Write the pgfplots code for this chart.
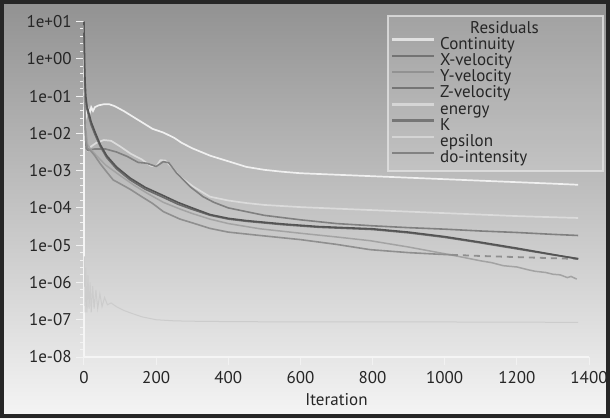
\documentclass[border=0pt]{standalone}
\usepackage{pgfplots}
\pgfplotsset{compat=1.18}
\usepackage{fontspec}
\setmainfont{PT Sans}
\definecolor{bgtop}{gray}{0.57}
\definecolor{bgmid}{gray}{0.75}
\definecolor{bgbot}{gray}{0.96}
\definecolor{cCont}{gray}{0.94}
\definecolor{cX}{gray}{0.33}
\definecolor{cY}{gray}{0.56}
\definecolor{cZ}{gray}{0.42}
\definecolor{cEn}{gray}{0.86}
\definecolor{cK}{gray}{0.50}
\definecolor{cEps}{gray}{0.64}
\definecolor{cDO}{gray}{0.80}
\newcommand{\lf}{\fontsize{8.5}{9}\selectfont}
\begin{document}
\begin{tikzpicture}
\shade[top color=bgtop, middle color=bgmid, bottom color=bgbot] (0pt,0pt) rectangle (305pt,209pt);
\begin{axis}[
  at={(42pt,30.5pt)}, anchor=south west, scale only axis,
  width=252.5pt, height=167.75pt,
  xmin=0, xmax=1400, ymode=log, ymin=1e-8, ymax=10,
  clip=false,
  axis x line*=bottom, axis y line*=left,
  axis line style={color=white!92!gray, line width=0.6pt},
  xtick={0,200,...,1400},
  ytick={1e-8,1e-7,1e-6,1e-5,1e-4,1e-3,1e-2,1e-1,1,10},
  yticklabels={1e-08,1e-07,1e-06,1e-05,1e-04,1e-03,1e-02,1e-01,1e+00,1e+01},
  minor ytick={1.585e-8,2.512e-8,3.981e-8,6.31e-8,
               1.585e-7,2.512e-7,3.981e-7,6.31e-7,
               1.585e-6,2.512e-6,3.981e-6,6.31e-6,
               1.585e-5,2.512e-5,3.981e-5,6.31e-5,
               1.585e-4,2.512e-4,3.981e-4,6.31e-4,
               1.585e-3,2.512e-3,3.981e-3,6.31e-3,
               1.585e-2,2.512e-2,3.981e-2,6.31e-2,
               1.585e-1,2.512e-1,3.981e-1,6.31e-1,
               1.585,2.512,3.981,6.31},
  tick align=outside, major tick length=4pt, minor tick length=2pt,
  tick style={color=white!90!gray, line width=0.5pt},
  /pgf/number format/assume math mode=true,
  /pgf/number format/1000 sep={},
  tick label style={font=\lf, text=black!85},
  xticklabel style={inner sep=0pt, yshift=-3pt},
  yticklabel style={inner sep=0pt, xshift=-2pt},
  xlabel={Iteration},
  every axis x label/.style={at={(axis description cs:0.5,0)}, anchor=center, yshift=-21.5pt, font=\lf, text=black!85},
  legend style={at={(0.6,1.0194)}, anchor=north west, fill=white, fill opacity=0.13, text opacity=1,
    draw=white!78!gray, draw opacity=0.8, line width=0.8pt, inner xsep=1.5pt, inner ysep=2.3pt,
    row sep=0pt, column sep=2.5pt, font=\lf, text=black!85,
    nodes={inner sep=0pt, text height=6.3pt, text depth=1.8pt}},
  legend cell align=left,
  legend image code/.code={\draw[#1] (0pt,2.6pt) -- (21pt,2.6pt);},
]
% Continuity
\addplot[cCont, line width=0.85pt, forget plot] coordinates {
(1,3.16e-1)(4,1e-1)(8,3.16e-2)(12,4.47e-2)(16,3.55e-2)(20,5.01e-2)(25,3.98e-2)(30,5.01e-2)
(40,5.62e-2)(55,6.03e-2)(70,6.03e-2)(85,5.37e-2)(110,3.98e-2)(130,3.02e-2)(160,2.00e-2)
(190,1.32e-2)(220,1.05e-2)(250,7.59e-3)(270,5.62e-3)(300,3.98e-3)(350,2.51e-3)(400,1.78e-3)
(450,1.26e-3)(500,1.05e-3)(550,9.33e-4)(600,8.51e-4)(700,7.76e-4)(800,7.08e-4)(900,6.46e-4)
(1000,5.89e-4)(1100,5.37e-4)(1200,4.90e-4)(1300,4.47e-4)(1370,4.17e-4)};
% energy
\addplot[cEn, line width=0.85pt, forget plot] coordinates {
(1,5.01e-1)(3,3.16e-2)(6,5.01e-3)(10,3.55e-3)(20,4.47e-3)(35,5.62e-3)(55,6.61e-3)(75,6.31e-3)
(100,4.47e-3)(130,2.82e-3)(160,2.0e-3)(185,1.35e-3)(200,1.29e-3)(212,1.91e-3)(225,1.86e-3)
(245,1.2e-3)(266,6.92e-4)(303,3.72e-4)(349,2.0e-4)(400,1.58e-4)(450,1.35e-4)(500,1.2e-4)
(600,1.05e-4)(700,9.55e-5)(800,8.71e-5)(900,7.94e-5)(1000,7.24e-5)(1100,6.61e-5)
(1200,6.03e-5)(1300,5.62e-5)(1370,5.37e-5)};
% K
\addplot[cK, line width=0.8pt, forget plot] coordinates {
(1,3.16e-1)(3,1.58e-2)(6,3.98e-3)(10,3.55e-3)(30,3.8e-3)(60,3.8e-3)(90,3.16e-3)(120,2.4e-3)
(150,1.66e-3)(174,1.58e-3)(200,1.29e-3)(220,1.74e-3)(235,1.62e-3)(257,8.51e-4)(294,3.72e-4)
(330,2.0e-4)(360,1.41e-4)(400,1.0e-4)(450,7.94e-5)(500,6.31e-5)(600,4.79e-5)(700,3.80e-5)
(800,3.31e-5)(900,2.95e-5)(1000,2.69e-5)(1100,2.40e-5)(1200,2.19e-5)(1300,1.95e-5)(1370,1.82e-5)};
% epsilon
\addplot[cEps, line width=0.75pt, forget plot] coordinates {
(1,1.58e-1)(5,1.26e-2)(10,5.01e-3)(20,3.55e-3)(35,2.51e-3)(60,1.41e-3)(100,7.41e-4)(140,3.98e-4)
(174,2.51e-4)(220,1.41e-4)(266,9.33e-5)(300,7.08e-5)(349,5.01e-5)(400,3.80e-5)(488,2.75e-5)
(600,2.09e-5)(700,1.66e-5)(793,1.32e-5)(900,8.91e-6)(1006,5.75e-6)(1100,3.80e-6)(1130,3.4e-6)
(1162,2.82e-6)(1200,2.6e-6)(1230,2.2e-6)(1250,2.0e-6)(1280,1.85e-6)(1300,1.66e-6)(1320,1.6e-6)
(1340,1.35e-6)(1350,1.45e-6)(1366,1.23e-6)};
% Y-velocity
\addplot[cY, line width=0.8pt, forget plot] coordinates {
(1,1e-1)(5,6.31e-3)(10,3.98e-3)(17,3.55e-3)(30,2.51e-3)(44,1.58e-3)(60,1.0e-3)(81,5.62e-4)
(100,4.47e-4)(128,3.16e-4)(160,2.0e-4)(190,1.32e-4)(220,7.94e-5)(266,5.01e-5)(300,3.98e-5)
(349,2.82e-5)(400,2.24e-5)(488,1.82e-5)(600,1.41e-5)(700,1.05e-5)(793,7.59e-6)(900,6.31e-6)
(978,5.75e-6)(1020,5.5e-6)};
\addplot[cY, line width=0.9pt, dash pattern=on 3pt off 2.5pt, forget plot] coordinates {
(1020,5.5e-6)(1100,5.13e-6)(1200,4.79e-6)(1300,4.47e-6)(1370,4.27e-6)};
% Z-velocity
\addplot[cZ, line width=0.8pt, forget plot] coordinates {
(0,5.01)(1,1.0)(2,3.16e-1)(4,1e-1)(7,5.01e-2)(12,3.16e-2)(20,1.66e-2)(30,9.55e-3)(45,4.47e-3)
(63,2.24e-3)(90,1.12e-3)(128,5.62e-4)(170,3.16e-4)(220,1.91e-4)(260,1.26e-4)(300,9.12e-5)
(350,6.31e-5)(400,5.01e-5)(450,4.37e-5)(550,3.55e-5)(650,3.02e-5)(800,2.63e-5)(900,2.14e-5)
(1000,1.62e-5)(1100,1.15e-5)(1200,7.94e-6)(1300,5.50e-6)(1370,4.37e-6)};
% X-velocity
\addplot[cX, line width=0.8pt, forget plot] coordinates {
(0,10)(1,2.0)(2,5.01e-1)(3,2.51e-1)(5,1e-1)(8,5.62e-2)(12,3.98e-2)(20,2.0e-2)(30,1.12e-2)
(45,5.01e-3)(63,2.51e-3)(90,1.26e-3)(128,6.31e-4)(170,3.55e-4)(220,2.14e-4)(260,1.41e-4)
(300,1.0e-4)(350,6.61e-5)(400,5.25e-5)(450,4.57e-5)(550,3.72e-5)(650,3.16e-5)(800,2.75e-5)
(900,2.24e-5)(1000,1.70e-5)(1100,1.20e-5)(1200,8.32e-6)(1300,5.62e-6)(1370,4.27e-6)};
% do-intensity
\addplot[cDO, line width=0.5pt, forget plot] coordinates {
(1,5.01e-6)(3,1.58e-7)(5,2.51e-6)(8,1.58e-7)(11,1.58e-6)(14,2.0e-7)(17,1e-6)(20,1.58e-7)
(24,7.94e-7)(28,2.0e-7)(33,6.31e-7)(38,2.0e-7)(44,5.01e-7)(50,2.24e-7)(57,3.98e-7)(65,2.51e-7)
(75,2.82e-7)(90,2.24e-7)(110,1.78e-7)(130,1.51e-7)(160,1.20e-7)(200,1.0e-7)(250,9.33e-8)
(300,9.12e-8)(400,8.91e-8)(600,8.71e-8)(1000,8.71e-8)(1370,8.51e-8)};
% legend
\addlegendimage{empty legend}
\addlegendentry{\makebox[80pt][l]{\hspace{15pt}Residuals}}
\addlegendimage{white!88!gray, line width=1.2pt}
\addlegendentry{\makebox[80pt][l]{Continuity}}
\addlegendimage{gray!80!black, line width=1.2pt}
\addlegendentry{X-velocity}
\addlegendimage{gray!90!white, line width=1.2pt}
\addlegendentry{Y-velocity}
\addlegendimage{gray!80!black, line width=1.2pt}
\addlegendentry{Z-velocity}
\addlegendimage{white!75!gray, line width=1.2pt}
\addlegendentry{energy}
\addlegendimage{gray!80!black, line width=1.2pt}
\addlegendentry{K}
\addlegendimage{white!72!gray, line width=1.2pt}
\addlegendentry{epsilon}
\addlegendimage{gray!90!black, line width=1.2pt}
\addlegendentry{do-intensity}
\end{axis}
\draw[line width=2pt, color=black!85] (1pt,1pt) rectangle (304pt,208pt);
\end{tikzpicture}
\end{document}
